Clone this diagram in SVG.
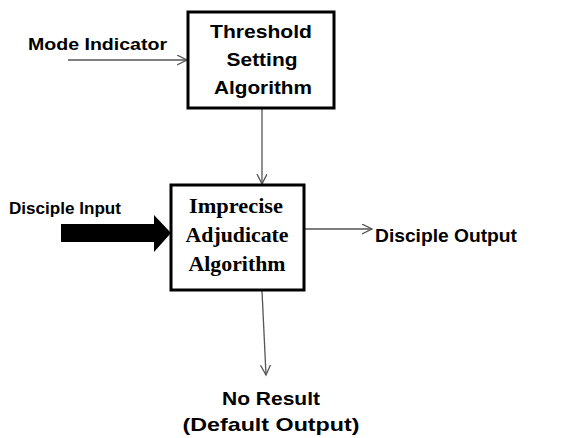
<svg xmlns="http://www.w3.org/2000/svg" width="577" height="438" viewBox="0 0 577 438">
<style>
.box{fill:#fff;stroke:#000;stroke-width:3}
.lbl{font-family:"Liberation Sans",Arial,sans-serif;font-weight:bold;font-size:16px;fill:#000}
.ser{font-family:"Liberation Serif","Times New Roman",serif;font-weight:bold;font-size:21px;fill:#000}
.sans{font-family:"Liberation Sans",Arial,sans-serif;font-weight:bold;font-size:19px;fill:#000}
.ln{stroke:#555;stroke-width:1.3;fill:none}
</style>
<defs>
<marker id="open" markerWidth="12" markerHeight="12" refX="10" refY="5" orient="auto" markerUnits="userSpaceOnUse">
<path d="M0,0 L10,5 L0,10" fill="none" stroke="#555" stroke-width="1.3"/>
</marker>
</defs>
<g id="connectors">
<line class="ln" x1="68" y1="60" x2="187" y2="60" marker-end="url(#open)"/>
<line class="ln" x1="262" y1="108" x2="262" y2="184" marker-end="url(#open)"/>
<line class="ln" x1="304" y1="229" x2="372" y2="229" marker-end="url(#open)"/>
<line class="ln" x1="262" y1="291" x2="266" y2="375" marker-end="url(#open)"/>
<polygon points="61,224 154,224 154,215 171,233 154,252 154,242 61,242" fill="#000"/>
</g>
<g id="threshold">
<rect class="box" x="188" y="12" width="146" height="96"/>
<text class="sans" x="261" y="38" text-anchor="middle" textLength="102" lengthAdjust="spacingAndGlyphs">Threshold</text>
<text class="sans" x="262" y="66" text-anchor="middle" textLength="71" lengthAdjust="spacingAndGlyphs">Setting</text>
<text class="sans" x="263" y="94" text-anchor="middle" textLength="98" lengthAdjust="spacingAndGlyphs">Algorithm</text>
</g>
<g id="adjudicate">
<rect class="box" x="171" y="185" width="133" height="105"/>
<text class="ser" x="236" y="213" text-anchor="middle" textLength="94" lengthAdjust="spacingAndGlyphs">Imprecise</text>
<text class="ser" x="237" y="242" text-anchor="middle" textLength="103" lengthAdjust="spacingAndGlyphs">Adjudicate</text>
<text class="ser" x="237" y="271" text-anchor="middle" textLength="97" lengthAdjust="spacingAndGlyphs">Algorithm</text>
</g>
<g id="mode-indicator">
<text class="lbl" x="28" y="50" textLength="139" lengthAdjust="spacingAndGlyphs">Mode Indicator</text>
</g>
<g id="disciple-input">
<text class="lbl" x="9" y="214" textLength="112" lengthAdjust="spacingAndGlyphs">Disciple Input</text>
</g>
<g id="disciple-output">
<text class="sans" x="375" y="242" textLength="142" lengthAdjust="spacingAndGlyphs">Disciple Output</text>
</g>
<g id="no-result">
<text class="sans" x="271" y="405" text-anchor="middle" textLength="98" lengthAdjust="spacingAndGlyphs">No Result</text>
<text class="sans" x="271" y="431" text-anchor="middle" textLength="177" lengthAdjust="spacingAndGlyphs">(Default Output)</text>
</g>
</svg>
